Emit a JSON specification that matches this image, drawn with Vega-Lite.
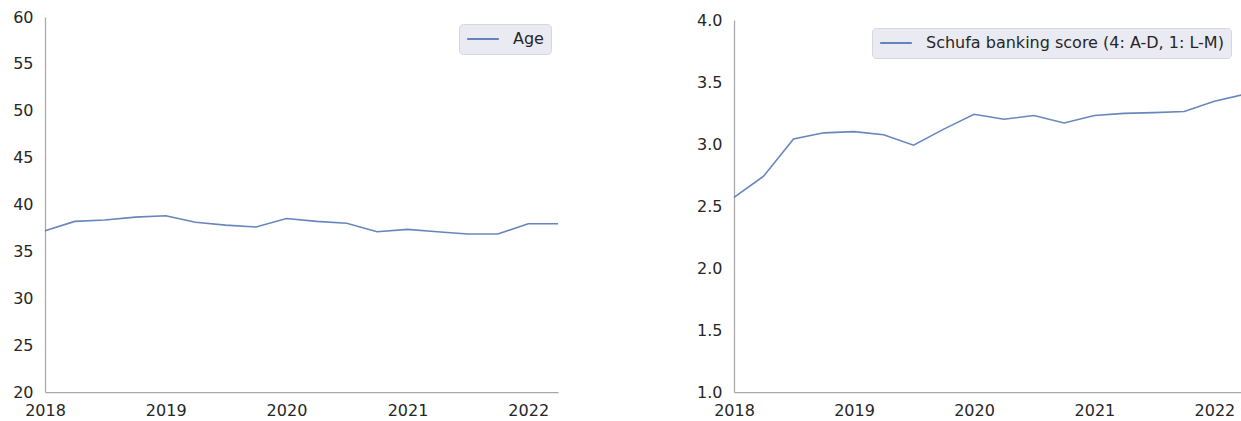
{
  "$schema": "https://vega.github.io/schema/vega-lite/v6.json",
  "padding": {"left": 12, "top": 9, "right": 0, "bottom": 5},
  "spacing": 134,
  "background": "white",
  "config": {
    "view": {"stroke": null},
    "font": "DejaVu Sans",
    "axis": {
      "grid": false,
      "ticks": false,
      "domainColor": "#a8a8a8",
      "domainWidth": 1.25,
      "labelFont": "DejaVu Sans",
      "labelFontSize": 16,
      "labelColor": "#262626",
      "labelPadding": 12,
      "labelFlush": false,
      "title": null
    },
    "legend": {
      "labelFont": "DejaVu Sans",
      "labelFontSize": 16,
      "labelColor": "#262626",
      "labelLimit": 500,
      "fillColor": "#EAEAF2",
      "strokeColor": "#d6d6de",
      "cornerRadius": 4,
      "padding": 7,
      "clipHeight": 16,
      "symbolType": "stroke",
      "symbolSize": 1000,
      "symbolStrokeWidth": 2,
      "labelOffset": 13,
      "title": null
    }
  },
  "data": {
    "values": [
      {"date": "2018-01-01", "age": 37.2, "schufa": 2.57},
      {"date": "2018-04-01", "age": 38.2, "schufa": 2.74},
      {"date": "2018-07-01", "age": 38.35, "schufa": 3.04},
      {"date": "2018-10-01", "age": 38.65, "schufa": 3.09},
      {"date": "2019-01-01", "age": 38.8, "schufa": 3.1},
      {"date": "2019-04-01", "age": 38.1, "schufa": 3.075},
      {"date": "2019-07-01", "age": 37.8, "schufa": 2.99},
      {"date": "2019-10-01", "age": 37.6, "schufa": 3.12},
      {"date": "2020-01-01", "age": 38.5, "schufa": 3.24},
      {"date": "2020-04-01", "age": 38.2, "schufa": 3.2},
      {"date": "2020-07-01", "age": 38.0, "schufa": 3.23},
      {"date": "2020-10-01", "age": 37.1, "schufa": 3.17},
      {"date": "2021-01-01", "age": 37.35, "schufa": 3.23},
      {"date": "2021-04-01", "age": 37.1, "schufa": 3.247},
      {"date": "2021-07-01", "age": 36.85, "schufa": 3.253},
      {"date": "2021-10-01", "age": 36.85, "schufa": 3.262},
      {"date": "2022-01-01", "age": 37.95, "schufa": 3.345},
      {"date": "2022-04-01", "age": 37.95, "schufa": 3.4}
    ]
  },
  "resolve": {"scale": {"color": "independent"}},
  "hconcat": [
    {
      "width": 513,
      "height": 375,
      "mark": {"type": "line", "strokeWidth": 1.6, "opacity": 0.85},
      "encoding": {
        "x": {
          "field": "date", "type": "temporal",
          "scale": {"domain": ["2018-01-01", "2022-04-01"], "nice": false},
          "axis": {"format": "%Y", "tickCount": {"interval": "year", "step": 1}, "labelPadding": 10}
        },
        "y": {
          "field": "age", "type": "quantitative",
          "scale": {"domain": [20, 60], "nice": false, "zero": false},
          "axis": {"values": [20, 25, 30, 35, 40, 45, 50, 55, 60]}
        },
        "color": {
          "datum": "Age",
          "scale": {"range": ["#4C72B0"]},
          "legend": {"orient": "none", "legendX": 414, "legendY": 7}
        }
      }
    },
    {
      "width": 510,
      "height": 375,
      "mark": {"type": "line", "strokeWidth": 1.6, "opacity": 0.85},
      "encoding": {
        "x": {
          "field": "date", "type": "temporal",
          "scale": {"domain": ["2018-01-01", "2022-04-01"], "nice": false},
          "axis": {"format": "%Y", "tickCount": {"interval": "year", "step": 1}, "labelPadding": 10}
        },
        "y": {
          "field": "schufa", "type": "quantitative",
          "scale": {"domain": [1, 4], "nice": false, "zero": false, "range": [375, 3]},
          "axis": {"values": [1, 1.5, 2, 2.5, 3, 3.5, 4], "format": ".1f"}
        },
        "color": {
          "datum": "Schufa banking score (4: A-D, 1: L-M)",
          "scale": {"range": ["#4C72B0"]},
          "legend": {"orient": "none", "legendX": 138, "legendY": 11}
        }
      }
    }
  ]
}
